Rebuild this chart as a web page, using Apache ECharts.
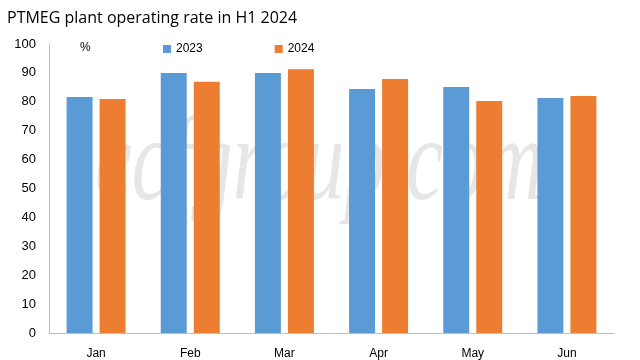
<!DOCTYPE html>
<html><head><meta charset="utf-8">
<script src="https://cdn.jsdelivr.net/npm/echarts@6/dist/echarts.min.js"></script>
<style>html,body{margin:0;padding:0;background:#fff}#c{width:640px;height:360px}</style>
</head><body><div id="c"></div>
<script>
const categories = ['Jan','Feb','Mar','Apr','May','Jun'];
const seriesNames = ['2023','2024'];
const values2023 = [81.7, 90.0, 90.0, 84.4, 85.1, 81.3];
const values2024 = [81.0, 86.9, 91.3, 87.9, 80.3, 82.0];
const yTicks = [0,10,20,30,40,50,60,70,80,90,100];

const font = 'Liberation Sans';
const chart = echarts.init(document.getElementById('c'), null, {renderer:'canvas'});
chart.setOption({
  animation:false,
  backgroundColor:'#fff',
  color:['#5B9BD5','#ED7D31'],
  title:{text:'PTMEG plant operating rate in H1 2024',left:2,top:5,
    textStyle:{fontFamily:'Open Sans',fontSize:16,fontWeight:'normal',color:'#000'}},
  graphic:[
    {type:'text',x:95,y:168,scaleX:0.7,scaleY:1,z:-1,silent:true,
      style:{text:'ccfgroup.com',font:'italic 118px "Liberation Serif"',fill:'#e6e6e6',verticalAlign:'middle',align:'left'}},
    {type:'text',left:80,top:42,
      style:{text:'%',font:'12px "Liberation Sans"',fill:'#000'}}
  ],
  legend:{data:seriesNames,top:38,left:158,itemWidth:8,itemHeight:8,itemGap:72,icon:'rect',
    textStyle:{fontFamily:font,fontSize:12,color:'#000'}},
  grid:{left:49,right:26,top:44,bottom:27,containLabel:false},
  xAxis:{type:'category',data:categories,
    axisLine:{lineStyle:{color:'#bfbfbf'}},axisTick:{show:false},
    axisLabel:{fontFamily:font,fontSize:12,color:'#000',margin:15}},
  yAxis:{type:'value',min:0,max:100,interval:10,
    axisLine:{show:true,lineStyle:{color:'#bfbfbf'}},axisTick:{show:false},splitLine:{show:false},
    axisLabel:{fontFamily:font,fontSize:13,color:'#000',margin:13,
      formatter:v=>yTicks.includes(v)?String(v):''}},
  series:[
    {name:seriesNames[0],type:'bar',data:values2023,barWidth:'27.6%',barGap:'27%'},
    {name:seriesNames[1],type:'bar',data:values2024,barWidth:'27.6%',barGap:'27%'}
  ]
});
</script></body></html>
